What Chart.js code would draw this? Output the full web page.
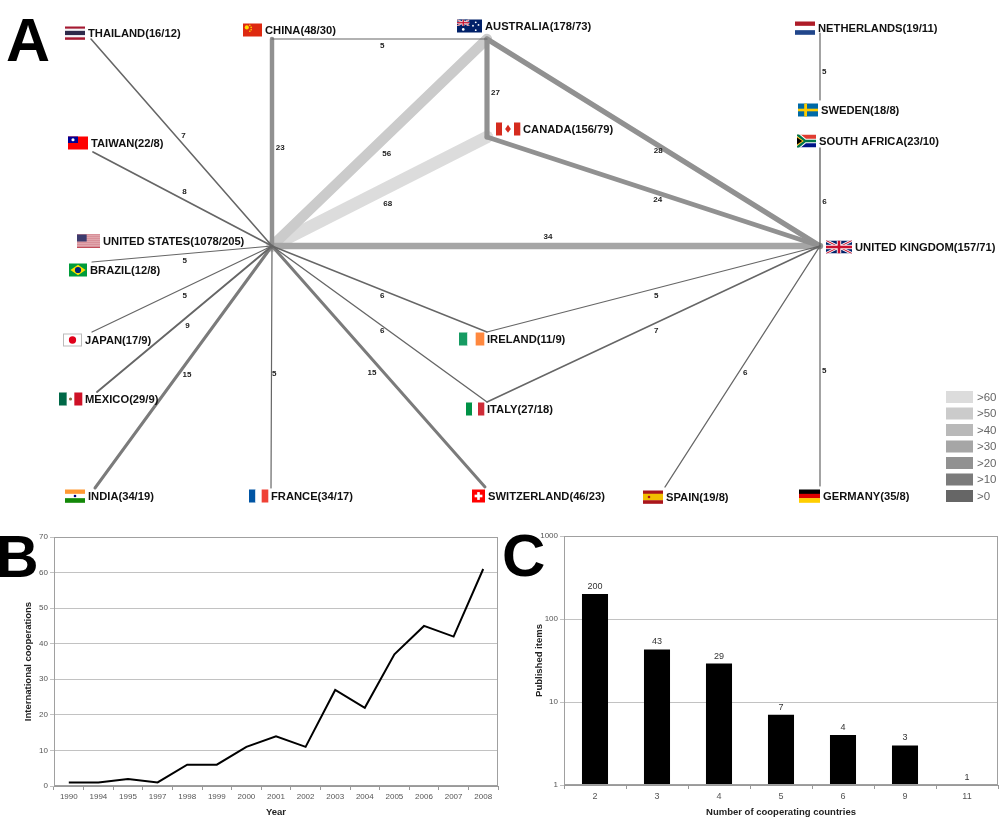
<!DOCTYPE html>
<html>
<head>
<meta charset="utf-8">
<title>International cooperations</title>
<script src="https://cdn.jsdelivr.net/npm/chart.js@4.4.1/dist/chart.umd.min.js"></script>
<style>
  body { margin: 0; background: #fff; }
  #page { position: relative; width: 1000px; height: 820px; overflow: hidden; font-family: "Liberation Sans", Arial, sans-serif; }
  canvas { position: absolute; }
  #chartA { left: 0; top: 0; }
  #chartB { left: 0; top: 520px; }
  #chartC { left: 505px; top: 520px; }
  .panel { position: absolute; font-weight: bold; font-size: 61px; line-height: 61px; color: #000; }
</style>
</head>
<body>
<div id="page">
  <canvas id="chartA" width="1000" height="505"></canvas>
  <canvas id="chartB" width="505" height="300"></canvas>
  <canvas id="chartC" width="495" height="300"></canvas>
  <div class="panel" style="left:6px;top:10px">A</div>
  <div class="panel" style="left:-4px;top:528px;font-size:59px;line-height:59px">B</div>
  <div class="panel" style="left:502px;top:526px;font-size:60px;line-height:60px">C</div>
</div>

<script>
// ---------- DATA ----------

// Panel A: countries, (papers / international cooperations)
const countries = ["UNITED STATES", "UNITED KINGDOM", "AUSTRALIA", "CANADA", "CHINA", "THAILAND", "TAIWAN",
  "BRAZIL", "JAPAN", "MEXICO", "INDIA", "FRANCE", "SWITZERLAND", "IRELAND", "ITALY", "SPAIN", "GERMANY",
  "NETHERLANDS", "SWEDEN", "SOUTH AFRICA"];
const papers = [1078, 157, 178, 156, 48, 16, 22, 12, 17, 29, 34, 34, 46, 11, 27, 19, 35, 19, 18, 23];
const coops = [205, 71, 73, 79, 30, 12, 8, 8, 9, 9, 19, 17, 23, 9, 18, 8, 8, 11, 8, 10];
// network layout of the nodes (0-100 grid)
const nodeX = [27.2, 82, 48.7, 48.7, 27.2, 9.1, 9.3, 9.2, 9.2, 9.7, 9.5, 27.1, 48.5, 48.7, 48.7, 66.5, 82, 82, 82, 82];
const nodeY = [49.2, 49.2, 7.8, 27.4, 7.8, 7.8, 30.4, 52.4, 66.4, 78.4, 97.6, 97.6, 97.4, 66.4, 80.4, 97.4, 97.2, 6.6, 20, 29.6];

// links between countries and number of shared papers
const edgeFrom = ["UNITED STATES", "UNITED STATES", "UNITED STATES", "UNITED STATES", "UNITED STATES", "UNITED STATES",
  "UNITED STATES", "UNITED STATES", "UNITED STATES", "UNITED STATES", "UNITED STATES", "UNITED STATES", "UNITED STATES",
  "UNITED STATES", "CHINA", "AUSTRALIA", "AUSTRALIA", "CANADA", "UNITED KINGDOM", "UNITED KINGDOM", "UNITED KINGDOM",
  "UNITED KINGDOM", "NETHERLANDS", "SOUTH AFRICA"];
const edgeTo = ["THAILAND", "TAIWAN", "CHINA", "AUSTRALIA", "CANADA", "UNITED KINGDOM", "BRAZIL", "JAPAN", "MEXICO",
  "INDIA", "FRANCE", "SWITZERLAND", "IRELAND", "ITALY", "AUSTRALIA", "CANADA", "UNITED KINGDOM", "UNITED KINGDOM",
  "IRELAND", "ITALY", "SPAIN", "GERMANY", "SWEDEN", "UNITED KINGDOM"];
const edgeWeight = [7, 8, 23, 56, 68, 34, 5, 5, 9, 15, 5, 15, 6, 6, 5, 27, 28, 24, 5, 7, 6, 5, 5, 6];

// legend classes
const legendSteps = [60, 50, 40, 30, 20, 10, 0];
const legendLabels = [">60", ">50", ">40", ">30", ">20", ">10", ">0"];

// Panel B: international cooperations per year
const years = ["1990", "1994", "1995", "1997", "1998", "1999", "2000", "2001", "2002", "2003", "2004", "2005", "2006", "2007", "2008"];
const cooperations = [1, 1, 2, 1, 6, 6, 11, 14, 11, 27, 22, 37, 45, 42, 61];

// Panel C: published items by number of cooperating countries
const countryCounts = ["2", "3", "4", "5", "6", "9", "11"];
const publishedItems = [200, 43, 29, 7, 4, 3, 1];
const itemTicks = [1, 10, 100, 1000];

// ---------- STYLE ----------

const FONT = '"Liberation Sans", Arial, Helvetica, sans-serif';
const legendColors = ["#dcdcdc", "#cbcbcb", "#b9b9b9", "#a6a6a6", "#919191", "#7b7b7b", "#666666"];
const legendBox = { x: 946, y: 391, w: 27, h: 12, gap: 16.5 };

// flag + label placement relative to node: [dx, dy, flag code, flag width]
const labelSpot = {
  "UNITED STATES": [-195, -5, "us", 23],
  "UNITED KINGDOM": [6, 1, "gb", 26],
  "AUSTRALIA": [-30, -13, "au", 25],
  "CANADA": [9, -8, "ca", 24],
  "CHINA": [-29, -9, "cn", 19],
  "THAILAND": [-26, -6, "th", 20],
  "TAIWAN": [-25, -9, "tw", 20],
  "BRAZIL": [-23, 8, "br", 18],
  "JAPAN": [-29, 8, "jp", 19],
  "MEXICO": [-38, 7, "mx", 23],
  "INDIA": [-30, 8, "in", 20],
  "FRANCE": [-22, 8, "fr", 19],
  "SWITZERLAND": [-13, 9, "ch", 13],
  "IRELAND": [-28, 7, "ie", 25],
  "ITALY": [-21, 7, "it", 18],
  "SPAIN": [-22, 10, "es", 20],
  "GERMANY": [-21, 10, "de", 21],
  "NETHERLANDS": [-25, -5, "nl", 20],
  "SWEDEN": [-22, 10, "se", 20],
  "SOUTH AFRICA": [-23, -7, "za", 19]
};
// edges whose number sits above / left of the line
const labelAbove = ["UNITED STATES|THAILAND", "UNITED STATES|TAIWAN", "UNITED STATES|UNITED KINGDOM"];
const labelLeft = ["UNITED STATES|SWITZERLAND"];

const idx = name => countries.indexOf(name);
const edgeWidth = w => Math.max(1, w * 0.18 + 0.3);
const shadeFor = w => legendColors[legendSteps.findIndex(s => w > s)];

// ---------- FLAGS ----------

function dot(ctx, cx, cy, r, col) {
  ctx.fillStyle = col;
  ctx.beginPath();
  ctx.arc(cx, cy, r, 0, Math.PI * 2);
  ctx.fill();
}

function poly(ctx, pts, col) {
  ctx.fillStyle = col;
  ctx.beginPath();
  pts.forEach((p, i) => (i ? ctx.lineTo(p[0], p[1]) : ctx.moveTo(p[0], p[1])));
  ctx.closePath();
  ctx.fill();
}

function bands(ctx, x, y, w, h, cols, dir, parts) {
  parts = parts || cols.map(() => 1);
  const tot = parts.reduce((a, b) => a + b, 0);
  let pos = 0;
  cols.forEach((c, i) => {
    const a = pos / tot, b = (pos + parts[i]) / tot;
    ctx.fillStyle = c;
    if (dir === "h") ctx.fillRect(x, y + a * h, w, (b - a) * h + 0.3);
    else ctx.fillRect(x + a * w, y, (b - a) * w + 0.3, h);
    pos += parts[i];
  });
}

function unionJack(ctx, x, y, w, h) {
  ctx.save();
  ctx.beginPath();
  ctx.rect(x, y, w, h);
  ctx.clip();
  ctx.fillStyle = "#012169";
  ctx.fillRect(x, y, w, h);
  const diag = (lw, col) => {
    ctx.strokeStyle = col;
    ctx.lineWidth = lw;
    ctx.beginPath();
    ctx.moveTo(x, y); ctx.lineTo(x + w, y + h);
    ctx.moveTo(x + w, y); ctx.lineTo(x, y + h);
    ctx.stroke();
  };
  diag(h * 0.22, "#fff");
  diag(h * 0.08, "#C8102E");
  ctx.fillStyle = "#fff";
  ctx.fillRect(x + w / 2 - h * 0.17, y, h * 0.34, h);
  ctx.fillRect(x, y + h / 2 - h * 0.17, w, h * 0.34);
  ctx.fillStyle = "#C8102E";
  ctx.fillRect(x + w / 2 - h * 0.1, y, h * 0.2, h);
  ctx.fillRect(x, y + h / 2 - h * 0.1, w, h * 0.2);
  ctx.restore();
}

function drawFlag(ctx, code, x, y, w, h) {
  ctx.save();
  switch (code) {
    case "th":
      bands(ctx, x, y, w, h, ["#A51931", "#F4F5F8", "#2D2A4A", "#F4F5F8", "#A51931"], "h", [1, 1, 2, 1, 1]);
      break;
    case "cn":
      ctx.fillStyle = "#DE2910"; ctx.fillRect(x, y, w, h);
      dot(ctx, x + w * 0.2, y + h * 0.3, h * 0.16, "#FFDE00");
      [[0.36, 0.14], [0.43, 0.3], [0.43, 0.48], [0.36, 0.6]].forEach(p => dot(ctx, x + w * p[0], y + h * p[1], h * 0.06, "#FFDE00"));
      break;
    case "au":
      ctx.fillStyle = "#012169"; ctx.fillRect(x, y, w, h);
      unionJack(ctx, x, y, w / 2, h / 2);
      dot(ctx, x + w * 0.25, y + h * 0.76, h * 0.1, "#fff");
      [[0.75, 0.22], [0.64, 0.48], [0.86, 0.42], [0.75, 0.82]].forEach(p => dot(ctx, x + w * p[0], y + h * p[1], h * 0.07, "#fff"));
      break;
    case "tw":
      ctx.fillStyle = "#FE0000"; ctx.fillRect(x, y, w, h);
      ctx.fillStyle = "#000095"; ctx.fillRect(x, y, w / 2, h / 2);
      dot(ctx, x + w / 4, y + h / 4, h * 0.12, "#fff");
      break;
    case "us":
      for (let i = 0; i < 13; i++) {
        ctx.fillStyle = i % 2 ? "#fff" : "#B22234";
        ctx.fillRect(x, y + i * h / 13, w, h / 13 + 0.3);
      }
      ctx.fillStyle = "#3C3B6E"; ctx.fillRect(x, y, w * 0.42, h * 7 / 13);
      break;
    case "ca":
      bands(ctx, x, y, w, h, ["#D52B1E", "#fff", "#D52B1E"], "v", [1, 2, 1]);
      poly(ctx, [[x + w / 2, y + h * 0.18], [x + w * 0.62, y + h * 0.5], [x + w / 2, y + h * 0.78], [x + w * 0.38, y + h * 0.5]], "#D52B1E");
      break;
    case "nl":
      bands(ctx, x, y, w, h, ["#AE1C28", "#fff", "#21468B"], "h");
      break;
    case "se":
      ctx.fillStyle = "#006AA7"; ctx.fillRect(x, y, w, h);
      ctx.fillStyle = "#FECC00";
      ctx.fillRect(x + w * 0.31, y, w * 0.14, h);
      ctx.fillRect(x, y + h * 0.4, w, h * 0.2);
      break;
    case "za":
      ctx.beginPath(); ctx.rect(x, y, w, h); ctx.clip();
      ctx.fillStyle = "#E03C31"; ctx.fillRect(x, y, w, h / 2);
      ctx.fillStyle = "#001489"; ctx.fillRect(x, y + h / 2, w, h / 2);
      [["#fff", 0.36], ["#007749", 0.2]].forEach(s => {
        ctx.strokeStyle = s[0];
        ctx.lineWidth = h * s[1];
        ctx.beginPath();
        ctx.moveTo(x - 1, y - 1); ctx.lineTo(x + w * 0.42, y + h / 2); ctx.lineTo(x - 1, y + h + 1);
        ctx.moveTo(x + w * 0.42, y + h / 2); ctx.lineTo(x + w, y + h / 2);
        ctx.stroke();
      });
      poly(ctx, [[x, y + h * 0.14], [x + w * 0.36, y + h / 2], [x, y + h * 0.86]], "#FFB612");
      poly(ctx, [[x, y + h * 0.24], [x + w * 0.27, y + h / 2], [x, y + h * 0.76]], "#000");
      break;
    case "gb":
      unionJack(ctx, x, y, w, h);
      break;
    case "br":
      ctx.fillStyle = "#009C3B"; ctx.fillRect(x, y, w, h);
      poly(ctx, [[x + w * 0.08, y + h / 2], [x + w / 2, y + h * 0.1], [x + w * 0.92, y + h / 2], [x + w / 2, y + h * 0.9]], "#FFDF00");
      dot(ctx, x + w / 2, y + h / 2, h * 0.24, "#002776");
      break;
    case "jp":
      ctx.fillStyle = "#fff"; ctx.fillRect(x, y, w, h);
      ctx.strokeStyle = "#bbb"; ctx.lineWidth = 1; ctx.strokeRect(x + 0.5, y + 0.5, w - 1, h - 1);
      dot(ctx, x + w / 2, y + h / 2, h * 0.28, "#E0001A");
      break;
    case "mx":
      bands(ctx, x, y, w, h, ["#006847", "#fff", "#CE1126"], "v");
      dot(ctx, x + w / 2, y + h / 2, h * 0.12, "#8C6B3F");
      break;
    case "in":
      bands(ctx, x, y, w, h, ["#FF9933", "#fff", "#138808"], "h");
      dot(ctx, x + w / 2, y + h / 2, h * 0.1, "#000080");
      break;
    case "fr":
      bands(ctx, x, y, w, h, ["#0055A4", "#fff", "#EF4135"], "v");
      break;
    case "ch":
      ctx.fillStyle = "#FF0000"; ctx.fillRect(x, y, w, h);
      ctx.fillStyle = "#fff";
      ctx.fillRect(x + w * 0.4, y + h * 0.2, w * 0.2, h * 0.6);
      ctx.fillRect(x + w * 0.2, y + h * 0.4, w * 0.6, h * 0.2);
      break;
    case "ie":
      bands(ctx, x, y, w, h, ["#169B62", "#fff", "#FF883E"], "v");
      break;
    case "it":
      bands(ctx, x, y, w, h, ["#009246", "#fff", "#CE2B37"], "v");
      break;
    case "es":
      bands(ctx, x, y, w, h, ["#AA151B", "#F1BF00", "#AA151B"], "h", [1, 2, 1]);
      dot(ctx, x + w * 0.3, y + h / 2, h * 0.1, "#AA151B");
      break;
    case "de":
      bands(ctx, x, y, w, h, ["#000", "#DD0000", "#FFCE00"], "h");
      break;
  }
  ctx.restore();
}

// ---------- PANEL A: NETWORK ----------

const edgeSets = edgeWeight.map((w, i) => {
  const a = idx(edgeFrom[i]);
  const b = idx(edgeTo[i]);
  return {
    data: [{ x: nodeX[a], y: nodeY[a] }, { x: nodeX[b], y: nodeY[b] }],
    showLine: true,
    borderColor: shadeFor(w),
    borderWidth: edgeWidth(w),
    borderCapStyle: "round",
    pointRadius: 0,
    clip: false,
    order: w
  };
});

const networkLabels = {
  id: "networkLabels",
  afterDatasetsDraw(chart) {
    const ctx = chart.ctx;
    const xs = chart.scales.x, ys = chart.scales.y;
    ctx.save();

    // link counts
    ctx.font = "bold 8px " + FONT;
    ctx.fillStyle = "#222";
    ctx.textBaseline = "middle";
    edgeWeight.forEach((w, i) => {
      const pts = chart.getDatasetMeta(i).data;
      const mx = (pts[0].x + pts[1].x) / 2;
      const my = (pts[0].y + pts[1].y) / 2;
      const lw = edgeWidth(w);
      const key = edgeFrom[i] + "|" + edgeTo[i];
      if (Math.abs(pts[0].x - pts[1].x) < 1) {
        ctx.textAlign = "left";
        ctx.fillText(w, mx + lw / 2 + 1.5, my + 5);
        return;
      }
      ctx.textAlign = "center";
      if (labelAbove.includes(key)) {
        ctx.fillText(w, mx + 2, my - lw / 2 - 6);
      } else if (labelLeft.includes(key)) {
        ctx.fillText(w, mx - 5 - lw / 2, my + 6);
      } else {
        ctx.fillText(w, mx + 2 + lw / 2, my + 6 + lw / 2);
      }
    });

    // country labels with flags
    ctx.font = "bold 11.2px " + FONT;
    ctx.textAlign = "left";
    countries.forEach((name, i) => {
      const spot = labelSpot[name];
      const fx = xs.getPixelForValue(nodeX[i]) + spot[0];
      const cy = ys.getPixelForValue(nodeY[i]) + spot[1];
      drawFlag(ctx, spot[2], fx, cy - 6.5, spot[3], 13);
      ctx.fillStyle = "#111";
      ctx.fillText(name + "(" + papers[i] + "/" + coops[i] + ")", fx + spot[3] + 3, cy + 0.5);
    });

    // grey scale legend
    ctx.font = "11.5px " + FONT;
    legendLabels.forEach((lab, i) => {
      const top = legendBox.y + i * legendBox.gap;
      ctx.fillStyle = legendColors[i];
      ctx.fillRect(legendBox.x, top, legendBox.w, legendBox.h);
      ctx.fillStyle = "#666";
      ctx.fillText(lab, legendBox.x + legendBox.w + 4, top + legendBox.h / 2 + 0.5);
    });
    ctx.restore();
  }
};

new Chart(document.getElementById("chartA"), {
  type: "scatter",
  data: { datasets: edgeSets },
  options: {
    responsive: false,
    animation: false,
    devicePixelRatio: 1,
    layout: { padding: 0 },
    plugins: { legend: { display: false }, tooltip: { enabled: false } },
    scales: {
      x: { type: "linear", min: 0, max: 100, display: false },
      y: { type: "linear", min: 0, max: 101, reverse: true, display: false }
    }
  },
  plugins: [networkLabels]
});

// ---------- PANELS B & C ----------

const frame = {
  id: "frame",
  afterDatasetsDraw(chart) {
    const a = chart.chartArea;
    const ctx = chart.ctx;
    ctx.save();
    ctx.strokeStyle = "#a0a0a0";
    ctx.lineWidth = 1;
    ctx.strokeRect(Math.round(a.left) + 0.5, Math.round(a.top) + 0.5, Math.round(a.right - a.left) - 1, Math.round(a.bottom - a.top) - 1);
    ctx.restore();
  }
};

const tickFont = { family: FONT, size: 8 };
const titleFont = { family: FONT, size: 9.5, weight: "bold" };

new Chart(document.getElementById("chartB"), {
  type: "line",
  data: {
    labels: years,
    datasets: [{
      data: cooperations,
      borderColor: "#000",
      borderWidth: 2,
      pointRadius: 0,
      tension: 0,
      fill: false
    }]
  },
  options: {
    responsive: false,
    animation: false,
    devicePixelRatio: 1,
    layout: { padding: { top: 17, right: 7, left: 0, bottom: 0 } },
    plugins: { legend: { display: false }, tooltip: { enabled: false } },
    scales: {
      x: {
        offset: true,
        grid: { offset: true, drawOnChartArea: false, tickLength: 4, color: "#999" },
        border: { color: "#999" },
        ticks: { font: tickFont, color: "#555", maxRotation: 0, autoSkip: false, padding: 2 },
        title: { display: true, text: "Year", font: titleFont, color: "#222", padding: { top: 0, bottom: 1.5 } },
        afterFit: s => { s.height = 34; }
      },
      y: {
        min: 0,
        max: 70,
        ticks: { stepSize: 10, font: tickFont, color: "#555", padding: 2 },
        grid: { color: "#c2c2c2", tickLength: 4 },
        border: { color: "#999" },
        title: { display: true, text: "International cooperations", font: titleFont, color: "#222", padding: { top: 23, bottom: 0 } },
        afterFit: s => { s.width = 54; }
      }
    }
  },
  plugins: [frame]
});

const barValues = {
  id: "barValues",
  afterDatasetsDraw(chart) {
    const ctx = chart.ctx;
    ctx.save();
    ctx.font = "9px " + FONT;
    ctx.fillStyle = "#333";
    ctx.textAlign = "center";
    ctx.textBaseline = "bottom";
    chart.getDatasetMeta(0).data.forEach((bar, i) => {
      ctx.fillText(publishedItems[i], bar.x, bar.y - 3);
    });
    ctx.restore();
  }
};

new Chart(document.getElementById("chartC"), {
  type: "bar",
  data: {
    labels: countryCounts,
    datasets: [{
      data: publishedItems,
      backgroundColor: "#000",
      borderWidth: 0,
      barPercentage: 0.42,
      categoryPercentage: 1
    }]
  },
  options: {
    responsive: false,
    animation: false,
    devicePixelRatio: 1,
    layout: { padding: { top: 16, right: 2, left: 0, bottom: 0 } },
    plugins: { legend: { display: false }, tooltip: { enabled: false } },
    scales: {
      x: {
        grid: { offset: true, drawOnChartArea: false, tickLength: 4, color: "#999" },
        border: { color: "#999" },
        ticks: { font: { family: FONT, size: 9 }, color: "#555", maxRotation: 0, padding: 2 },
        title: { display: true, text: "Number of cooperating countries", font: titleFont, color: "#222", padding: { top: 0, bottom: 1.5 } },
        afterFit: s => { s.height = 35; }
      },
      y: {
        type: "logarithmic",
        min: 1,
        max: 1000,
        afterBuildTicks: s => { s.ticks = itemTicks.map(v => ({ value: v })); },
        ticks: { font: tickFont, color: "#555", padding: 2, autoSkip: false, callback: v => String(v) },
        grid: { color: "#c2c2c2", tickLength: 4 },
        border: { color: "#999" },
        title: { display: true, text: "Published items", font: titleFont, color: "#222", padding: { top: 29, bottom: 0 } },
        afterFit: s => { s.width = 59; }
      }
    }
  },
  plugins: [frame, barValues]
});
</script>
</body>
</html>
